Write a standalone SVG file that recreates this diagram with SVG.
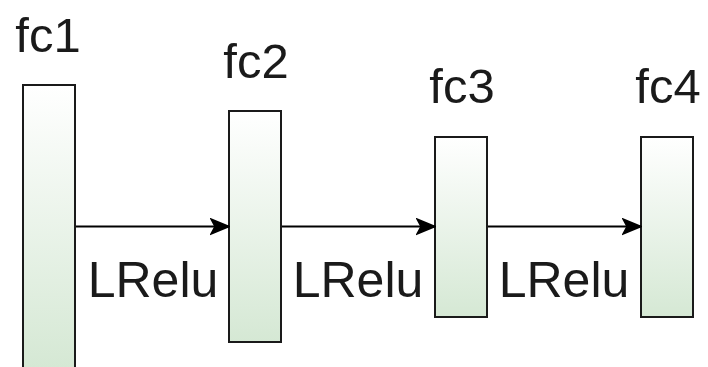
<svg xmlns="http://www.w3.org/2000/svg" width="708" height="367" viewBox="0 0 708 367">
  <style>
    .layer { stroke: #1a1a1a; stroke-width: 2; fill: url(#layerFill); }
    .name { font-family: "Liberation Sans", Arial, sans-serif; font-size: 49px; fill: #1a1a1a; text-anchor: middle; }
    .edge { stroke: #000; stroke-width: 2; fill: none; }
    .act { font-family: "Liberation Sans", Arial, sans-serif; font-size: 50px; fill: #1a1a1a; text-anchor: middle; }
  </style>
  <defs>
    <linearGradient id="layerFill" x1="0" y1="0" x2="0" y2="1">
      <stop offset="0" stop-color="#ffffff"/>
      <stop offset="1" stop-color="#d5e8d4"/>
    </linearGradient>
    <marker id="head" viewBox="0 0 20 18" refX="19" refY="9" markerWidth="20" markerHeight="18" markerUnits="userSpaceOnUse" orient="auto">
      <path d="M19,9 L1,1.5 L5,9 L1,16.5 Z" fill="#000" stroke="#000" stroke-width="1.5" stroke-linejoin="miter"/>
    </marker>
  </defs>

  <rect width="708" height="367" fill="#fff"/>

  <g id="fc1">
    <rect class="layer" x="23" y="85" width="52" height="283"/>
    <text class="name" x="48" y="52">fc1</text>
  </g>
  <g id="fc2">
    <rect class="layer" x="229" y="111" width="52" height="231"/>
    <text class="name" x="256" y="78">fc2</text>
  </g>
  <g id="fc3">
    <rect class="layer" x="435" y="137" width="52" height="180"/>
    <text class="name" x="462" y="103">fc3</text>
  </g>
  <g id="fc4">
    <rect class="layer" x="641" y="137" width="52" height="180"/>
    <text class="name" x="668" y="103">fc4</text>
  </g>

  <g id="connectors">
    <line class="edge" x1="76" y1="226.5" x2="229" y2="226.5" marker-end="url(#head)"/>
    <line class="edge" x1="282" y1="226.5" x2="435" y2="226.5" marker-end="url(#head)"/>
    <line class="edge" x1="488" y1="226.5" x2="641" y2="226.5" marker-end="url(#head)"/>
    <text class="act" x="153" y="297">LRelu</text>
    <text class="act" x="358" y="297">LRelu</text>
    <text class="act" x="564" y="297">LRelu</text>
  </g>
</svg>
